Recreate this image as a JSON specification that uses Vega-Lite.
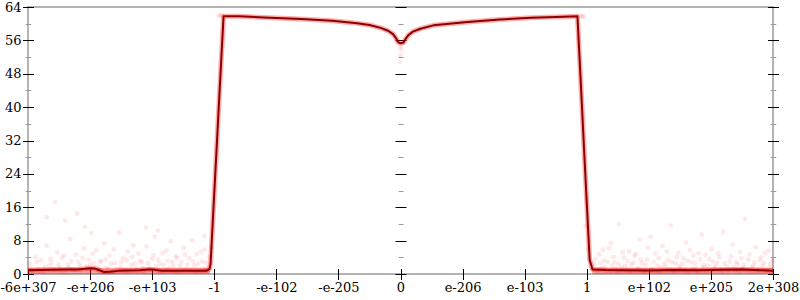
{
  "$schema": "https://vega.github.io/schema/vega-lite/v6.json",
  "width": 745,
  "height": 267,
  "autosize": {"type": "none"},
  "padding": {"left": 28, "top": 7, "right": 27, "bottom": 26},
  "background": "white",
  "config": {
    "view": {"stroke": "#b4b4b4", "strokeWidth": 2},
    "axis": {"labelFont": "DejaVu Serif", "labelFontSize": 13, "labelColor": "#000", "grid": false, "title": null, "domain": false}
  },
  "datasets": {
    "line": [
      {"x": 0, "y": 0.9}, {"x": 0.2, "y": 0.95}, {"x": 0.4, "y": 1.0}, {"x": 0.6, "y": 1.05}, {"x": 0.8, "y": 1.1},
      {"x": 0.92, "y": 1.25}, {"x": 1.0, "y": 1.4}, {"x": 1.08, "y": 1.3}, {"x": 1.15, "y": 0.9}, {"x": 1.22, "y": 0.5},
      {"x": 1.32, "y": 0.55}, {"x": 1.45, "y": 0.75}, {"x": 1.6, "y": 0.85}, {"x": 1.8, "y": 0.9}, {"x": 1.95, "y": 1.1},
      {"x": 2.02, "y": 1.05}, {"x": 2.15, "y": 0.8}, {"x": 2.3, "y": 0.75}, {"x": 2.5, "y": 0.8}, {"x": 2.7, "y": 0.75},
      {"x": 2.88, "y": 0.8}, {"x": 2.925, "y": 1.2}, {"x": 2.941, "y": 2.5}, {"x": 2.969, "y": 10.5}, {"x": 3.006, "y": 21},
      {"x": 3.045, "y": 32}, {"x": 3.076, "y": 41}, {"x": 3.108, "y": 50}, {"x": 3.133, "y": 57}, {"x": 3.15, "y": 61.8},
      {"x": 3.4, "y": 61.8}, {"x": 3.8, "y": 61.5}, {"x": 4.4, "y": 61.1}, {"x": 4.9, "y": 60.7}, {"x": 5.3, "y": 60.1},
      {"x": 5.5, "y": 59.7}, {"x": 5.68, "y": 59.0}, {"x": 5.8, "y": 58.3}, {"x": 5.88, "y": 57.5}, {"x": 5.93, "y": 56.5},
      {"x": 5.96, "y": 55.6}, {"x": 6.0, "y": 55.3}, {"x": 6.05, "y": 55.5}, {"x": 6.08, "y": 56.3}, {"x": 6.13, "y": 57.3},
      {"x": 6.2, "y": 58.1}, {"x": 6.32, "y": 58.8}, {"x": 6.53, "y": 59.6}, {"x": 7.08, "y": 60.4}, {"x": 7.6, "y": 61.0},
      {"x": 8.1, "y": 61.4}, {"x": 8.5, "y": 61.6}, {"x": 8.85, "y": 61.8}, {"x": 8.885, "y": 51.5}, {"x": 8.918, "y": 41.7},
      {"x": 8.958, "y": 29.5}, {"x": 8.998, "y": 17.7}, {"x": 9.047, "y": 3.4}, {"x": 9.092, "y": 1.1}, {"x": 9.3, "y": 0.95},
      {"x": 9.6, "y": 0.9}, {"x": 10.0, "y": 0.85}, {"x": 10.4, "y": 0.95}, {"x": 10.8, "y": 0.9}, {"x": 11.2, "y": 1.0},
      {"x": 11.5, "y": 1.05}, {"x": 11.8, "y": 0.9}, {"x": 12, "y": 0.8}
    ],
    "band": [
      {"seg": "a", "x": 0, "lo": 0, "hi": 1.5}, {"seg": "a", "x": 2.93, "lo": 0, "hi": 1.5},
      {"seg": "b", "x": 9.09, "lo": 0, "hi": 1.5}, {"seg": "b", "x": 12, "lo": 0, "hi": 1.5}
    ],
    "pts": [
      {"x": 0.03, "y": 2.4}, {"x": 0.08, "y": 0.6}, {"x": 0.12, "y": 4.1}, {"x": 0.17, "y": 1.2}, {"x": 0.21, "y": 3.3},
      {"x": 0.25, "y": 0.4}, {"x": 0.3, "y": 6.8}, {"x": 0.3, "y": 13.6}, {"x": 0.34, "y": 1.9}, {"x": 0.38, "y": 2.7},
      {"x": 0.43, "y": 0.8}, {"x": 0.44, "y": 17.3}, {"x": 0.47, "y": 5.2}, {"x": 0.51, "y": 1.5}, {"x": 0.55, "y": 3.9},
      {"x": 0.6, "y": 0.3}, {"x": 0.6, "y": 12.8}, {"x": 0.64, "y": 2.2}, {"x": 0.68, "y": 8.4}, {"x": 0.72, "y": 1.1},
      {"x": 0.77, "y": 4.6}, {"x": 0.79, "y": 14.5}, {"x": 0.81, "y": 2.9}, {"x": 0.85, "y": 0.7}, {"x": 0.9, "y": 6.1},
      {"x": 0.92, "y": 11.3}, {"x": 0.94, "y": 1.8}, {"x": 0.98, "y": 3.4}, {"x": 1.02, "y": 9.8}, {"x": 1.06, "y": 2.5},
      {"x": 1.1, "y": 5.7}, {"x": 1.14, "y": 0.9}, {"x": 1.18, "y": 3.1}, {"x": 1.23, "y": 7.3}, {"x": 1.27, "y": 1.4},
      {"x": 1.31, "y": 4.4}, {"x": 1.36, "y": 0.5}, {"x": 1.4, "y": 2.6}, {"x": 1.47, "y": 9.9}, {"x": 1.49, "y": 1.7},
      {"x": 1.53, "y": 3.8}, {"x": 1.57, "y": 0.6}, {"x": 1.61, "y": 5.4}, {"x": 1.66, "y": 2.1}, {"x": 1.7, "y": 6.9},
      {"x": 1.74, "y": 1.3}, {"x": 1.78, "y": 4.9}, {"x": 1.83, "y": 2.8}, {"x": 1.87, "y": 0.4}, {"x": 1.9, "y": 11.1},
      {"x": 1.91, "y": 6.6}, {"x": 1.95, "y": 1.6}, {"x": 2.0, "y": 3.6}, {"x": 2.04, "y": 8.9}, {"x": 2.08, "y": 0.8},
      {"x": 2.09, "y": 10.4}, {"x": 2.12, "y": 2.4}, {"x": 2.17, "y": 5.0}, {"x": 2.21, "y": 1.0}, {"x": 2.25, "y": 3.2},
      {"x": 2.3, "y": 7.8}, {"x": 2.34, "y": 1.9}, {"x": 2.38, "y": 4.2}, {"x": 2.42, "y": 0.5}, {"x": 2.47, "y": 2.9},
      {"x": 2.51, "y": 6.3}, {"x": 2.55, "y": 1.2}, {"x": 2.6, "y": 3.7}, {"x": 2.64, "y": 8.1}, {"x": 2.68, "y": 2.0},
      {"x": 2.72, "y": 4.8}, {"x": 2.77, "y": 0.7}, {"x": 2.81, "y": 3.0}, {"x": 2.84, "y": 9.1}, {"x": 2.85, "y": 5.9},
      {"x": 2.89, "y": 1.5}, {"x": 2.92, "y": 4.0}, {"x": 2.95, "y": 6.5},
      {"x": 0.05, "y": 1.0}, {"x": 0.14, "y": 2.9}, {"x": 0.19, "y": 0.7}, {"x": 0.27, "y": 1.6}, {"x": 0.36, "y": 3.6},
      {"x": 0.41, "y": 1.3}, {"x": 0.49, "y": 2.3}, {"x": 0.53, "y": 0.5}, {"x": 0.58, "y": 4.4}, {"x": 0.66, "y": 1.5},
      {"x": 0.7, "y": 3.0}, {"x": 0.75, "y": 0.9}, {"x": 0.83, "y": 2.0}, {"x": 0.88, "y": 3.9}, {"x": 0.96, "y": 0.6},
      {"x": 1.0, "y": 2.2}, {"x": 1.04, "y": 4.8}, {"x": 1.12, "y": 1.7}, {"x": 1.16, "y": 2.9}, {"x": 1.21, "y": 0.4},
      {"x": 1.25, "y": 3.5}, {"x": 1.29, "y": 1.0}, {"x": 1.34, "y": 2.4}, {"x": 1.38, "y": 5.9}, {"x": 1.43, "y": 1.1},
      {"x": 1.51, "y": 2.8}, {"x": 1.55, "y": 1.0}, {"x": 1.59, "y": 3.3}, {"x": 1.64, "y": 0.7}, {"x": 1.68, "y": 4.1},
      {"x": 1.72, "y": 2.4}, {"x": 1.76, "y": 0.9}, {"x": 1.81, "y": 3.1}, {"x": 1.85, "y": 1.5}, {"x": 1.93, "y": 2.6},
      {"x": 1.98, "y": 0.5}, {"x": 2.02, "y": 4.5}, {"x": 2.06, "y": 1.8}, {"x": 2.1, "y": 3.4}, {"x": 2.15, "y": 0.6},
      {"x": 2.19, "y": 2.2}, {"x": 2.23, "y": 5.6}, {"x": 2.27, "y": 1.4}, {"x": 2.32, "y": 2.9}, {"x": 2.36, "y": 0.6},
      {"x": 2.4, "y": 3.9}, {"x": 2.45, "y": 1.9}, {"x": 2.49, "y": 0.8}, {"x": 2.53, "y": 4.6}, {"x": 2.57, "y": 2.3},
      {"x": 2.62, "y": 1.0}, {"x": 2.66, "y": 3.0}, {"x": 2.7, "y": 0.5}, {"x": 2.74, "y": 2.4}, {"x": 2.79, "y": 5.3},
      {"x": 2.83, "y": 1.2}, {"x": 2.87, "y": 2.7}, {"x": 2.9, "y": 0.9},
      {"x": 3.07, "y": 61.9}, {"x": 3.1, "y": 62.0}, {"x": 3.12, "y": 61.9},
      {"x": 5.99, "y": 50.8}, {"x": 6.0, "y": 52.5}, {"x": 6.01, "y": 53.8}, {"x": 6.0, "y": 54.5},
      {"x": 8.9, "y": 61.8}, {"x": 8.93, "y": 61.7}, {"x": 8.95, "y": 61.8},
      {"x": 8.98, "y": 11.5}, {"x": 9.03, "y": 6.0},
      {"x": 9.12, "y": 2.3}, {"x": 9.16, "y": 0.5}, {"x": 9.2, "y": 4.7}, {"x": 9.24, "y": 1.4}, {"x": 9.28, "y": 3.2},
      {"x": 9.32, "y": 0.7}, {"x": 9.36, "y": 6.2}, {"x": 9.39, "y": 7.4}, {"x": 9.41, "y": 1.9}, {"x": 9.45, "y": 2.8},
      {"x": 9.49, "y": 0.4}, {"x": 9.52, "y": 12.0}, {"x": 9.56, "y": 1.6}, {"x": 9.6, "y": 3.9}, {"x": 9.64, "y": 0.9},
      {"x": 9.68, "y": 5.5}, {"x": 9.72, "y": 2.2}, {"x": 9.77, "y": 4.3}, {"x": 9.81, "y": 1.1}, {"x": 9.85, "y": 8.2},
      {"x": 9.89, "y": 2.6}, {"x": 9.93, "y": 0.6}, {"x": 9.97, "y": 3.5}, {"x": 10.03, "y": 8.9}, {"x": 10.06, "y": 1.3},
      {"x": 10.1, "y": 4.9}, {"x": 10.14, "y": 2.0}, {"x": 10.18, "y": 0.5}, {"x": 10.22, "y": 6.7}, {"x": 10.27, "y": 1.7},
      {"x": 10.31, "y": 3.3}, {"x": 10.35, "y": 11.6}, {"x": 10.39, "y": 0.8}, {"x": 10.43, "y": 2.5}, {"x": 10.47, "y": 5.1},
      {"x": 10.51, "y": 1.2}, {"x": 10.56, "y": 3.7}, {"x": 10.6, "y": 7.5}, {"x": 10.64, "y": 0.6}, {"x": 10.68, "y": 2.9},
      {"x": 10.72, "y": 4.4}, {"x": 10.76, "y": 1.5}, {"x": 10.8, "y": 5.0}, {"x": 10.85, "y": 9.4}, {"x": 10.89, "y": 2.1},
      {"x": 10.93, "y": 0.7}, {"x": 10.97, "y": 3.6}, {"x": 11.01, "y": 6.0}, {"x": 11.05, "y": 1.3}, {"x": 11.1, "y": 2.7},
      {"x": 11.14, "y": 4.1}, {"x": 11.18, "y": 0.5}, {"x": 11.2, "y": 10.1}, {"x": 11.26, "y": 1.8}, {"x": 11.3, "y": 3.0},
      {"x": 11.35, "y": 7.1}, {"x": 11.39, "y": 0.9}, {"x": 11.43, "y": 2.3}, {"x": 11.47, "y": 5.3}, {"x": 11.51, "y": 1.4},
      {"x": 11.55, "y": 13.2}, {"x": 11.6, "y": 3.4}, {"x": 11.64, "y": 0.6}, {"x": 11.68, "y": 2.0}, {"x": 11.72, "y": 6.4},
      {"x": 11.76, "y": 1.1}, {"x": 11.81, "y": 4.0}, {"x": 11.85, "y": 2.6}, {"x": 11.89, "y": 0.8}, {"x": 11.93, "y": 5.6},
      {"x": 11.97, "y": 1.6}, {"x": 11.99, "y": 3.1},
      {"x": 9.1, "y": 1.2}, {"x": 9.14, "y": 3.6}, {"x": 9.18, "y": 0.9}, {"x": 9.22, "y": 2.6}, {"x": 9.26, "y": 5.8},
      {"x": 9.3, "y": 1.5}, {"x": 9.34, "y": 2.9}, {"x": 9.38, "y": 0.7}, {"x": 9.43, "y": 4.1}, {"x": 9.47, "y": 1.3},
      {"x": 9.51, "y": 2.4}, {"x": 9.54, "y": 0.8}, {"x": 9.58, "y": 5.2}, {"x": 9.62, "y": 1.9}, {"x": 9.66, "y": 3.1},
      {"x": 9.7, "y": 0.5}, {"x": 9.75, "y": 2.7}, {"x": 9.79, "y": 4.8}, {"x": 9.83, "y": 1.4}, {"x": 9.87, "y": 3.4},
      {"x": 9.91, "y": 0.9}, {"x": 9.95, "y": 2.2}, {"x": 9.99, "y": 6.3}, {"x": 10.04, "y": 1.0}, {"x": 10.08, "y": 2.9},
      {"x": 10.12, "y": 0.7}, {"x": 10.16, "y": 3.8}, {"x": 10.2, "y": 1.6}, {"x": 10.25, "y": 2.5}, {"x": 10.29, "y": 5.4},
      {"x": 10.33, "y": 1.1}, {"x": 10.37, "y": 2.8}, {"x": 10.41, "y": 0.6}, {"x": 10.45, "y": 4.0}, {"x": 10.49, "y": 1.8},
      {"x": 10.54, "y": 2.4}, {"x": 10.58, "y": 0.9}, {"x": 10.62, "y": 3.2}, {"x": 10.66, "y": 5.7}, {"x": 10.7, "y": 1.3},
      {"x": 10.74, "y": 2.6}, {"x": 10.78, "y": 0.5}, {"x": 10.83, "y": 3.5}, {"x": 10.87, "y": 1.6}, {"x": 10.91, "y": 4.5},
      {"x": 10.95, "y": 2.0}, {"x": 10.99, "y": 0.8}, {"x": 11.03, "y": 3.0}, {"x": 11.07, "y": 1.9}, {"x": 11.12, "y": 5.0},
      {"x": 11.16, "y": 1.2}, {"x": 11.22, "y": 2.5}, {"x": 11.28, "y": 0.7}, {"x": 11.33, "y": 4.2}, {"x": 11.37, "y": 1.7},
      {"x": 11.41, "y": 2.9}, {"x": 11.45, "y": 0.6}, {"x": 11.49, "y": 3.8}, {"x": 11.53, "y": 2.1}, {"x": 11.58, "y": 0.9},
      {"x": 11.62, "y": 4.7}, {"x": 11.66, "y": 1.5}, {"x": 11.7, "y": 2.8}, {"x": 11.74, "y": 0.7}, {"x": 11.79, "y": 3.3},
      {"x": 11.83, "y": 1.9}, {"x": 11.87, "y": 5.1}, {"x": 11.91, "y": 1.0}, {"x": 11.95, "y": 2.4}
    ]
  },
  "resolve": {"axis": {"y": "independent"}},
  "layer": [
    {
      "data": {"name": "band"},
      "mark": {"type": "area", "color": "#ff0000", "opacity": 0.33},
      "encoding": {
        "x": {
          "field": "x", "type": "quantitative",
          "scale": {"domain": [0, 12], "nice": false, "zero": false},
          "axis": {
            "orient": "bottom", "title": null, "domain": false, "grid": false,
            "offset": -5.5, "tickSize": 11, "tickWidth": 1, "tickColor": "#000",
            "values": [0, 1, 2, 3, 4, 5, 6, 7, 8, 9, 10, 11, 12],
            "labelExpr": "['-6e+307','-e+206','-e+103','-1','-e-102','-e-205','0','e-206','e-103','1','e+102','e+205','2e+308'][datum.value]",
            "labelFlush": false, "labelOverlap": false, "labelPadding": 2,
            "labelFont": "DejaVu Serif", "labelFontSize": 13, "labelColor": "#000"
          }
        },
        "detail": {"field": "seg"},
        "y": {
          "field": "lo", "type": "quantitative",
          "scale": {"domain": [0, 64], "nice": false},
          "axis": {
            "orient": "left", "offset": -5.5, "title": null, "domain": false,
            "values": [0, 8, 16, 24, 32, 40, 48, 56, 64],
            "labelPadding": 1.5, "labelOverlap": false,
            "labelFont": "DejaVu Serif", "labelFontSize": 13, "labelColor": "#000",
            "tickSize": 11, "tickWidth": 1, "tickColor": "#000"
          }
        },
        "y2": {"field": "hi"}
      }
    },
    {
      "data": {"name": "pts"},
      "mark": {"type": "circle", "color": "#ff0000", "opacity": 0.09, "size": 24},
      "encoding": {
        "x": {"field": "x", "type": "quantitative", "scale": {"domain": [0, 12], "nice": false, "zero": false}},
        "y": {
          "field": "y", "type": "quantitative",
          "scale": {"domain": [0, 64], "nice": false},
          "axis": {
            "orient": "right", "offset": -5.5, "title": null, "domain": false, "labels": false,
            "values": [0, 8, 16, 24, 32, 40, 48, 56, 64],
            "tickSize": 11, "tickWidth": 1, "tickColor": "#000"
          }
        }
      }
    },
    {
      "data": {"name": "line"},
      "mark": {"type": "line", "color": "#ff0000", "opacity": 0.32, "strokeWidth": 5, "strokeJoin": "round"},
      "encoding": {
        "x": {"field": "x", "type": "quantitative", "scale": {"domain": [0, 12], "nice": false, "zero": false}},
        "y": {
          "field": "y", "type": "quantitative", "scale": {"domain": [0, 64], "nice": false},
          "axis": {
            "orient": "left", "offset": -2.75, "title": null, "domain": false, "labels": false,
            "values": [4, 12, 20, 28, 36, 44, 52, 60],
            "tickSize": 5.5, "tickWidth": 1, "tickColor": "#999"
          }
        }
      }
    },
    {
      "data": {"name": "line"},
      "mark": {"type": "line", "color": "#8b0000", "strokeWidth": 2, "strokeJoin": "round"},
      "encoding": {
        "x": {"field": "x", "type": "quantitative", "scale": {"domain": [0, 12], "nice": false, "zero": false}},
        "y": {
          "field": "y", "type": "quantitative", "scale": {"domain": [0, 64], "nice": false},
          "axis": {
            "orient": "right", "offset": -2.75, "title": null, "domain": false, "labels": false,
            "values": [4, 12, 20, 28, 36, 44, 52, 60],
            "tickSize": 5.5, "tickWidth": 1, "tickColor": "#999"
          }
        }
      }
    },
    {
      "mark": {"type": "rule", "color": "#b4b4b4", "strokeWidth": 1.5},
      "encoding": {
        "x": {"datum": 6, "type": "quantitative"},
        "y": {
          "datum": 0, "type": "quantitative", "scale": {"domain": [0, 64], "nice": false},
          "axis": {
            "orient": "left", "offset": -378, "title": null, "domain": false, "labels": false,
            "values": [0, 8, 16, 24, 32, 40, 48, 56, 64],
            "tickSize": 11, "tickWidth": 1, "tickColor": "#000"
          }
        },
        "y2": {"datum": 64}
      }
    },
    {
      "mark": {"type": "rule", "color": "#b4b4b4", "strokeWidth": 1.5},
      "encoding": {
        "x": {"datum": 6, "type": "quantitative"},
        "y": {
          "datum": 0, "type": "quantitative", "scale": {"domain": [0, 64], "nice": false},
          "axis": {
            "orient": "left", "offset": -375, "title": null, "domain": false, "labels": false,
            "values": [4, 12, 20, 28, 36, 44, 52, 60],
            "tickSize": 5, "tickWidth": 1, "tickColor": "#999"
          }
        },
        "y2": {"datum": 64}
      }
    }
  ]
}
